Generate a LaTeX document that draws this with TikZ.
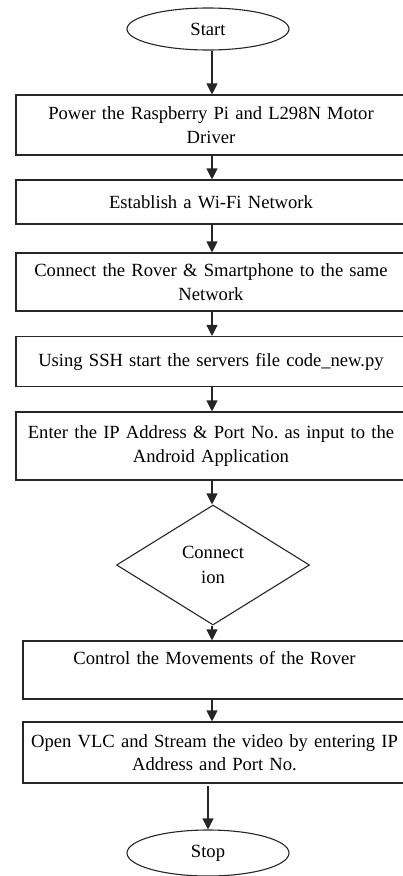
\documentclass[tikz,border=0pt]{standalone}
\usepackage{fontspec}
\setmainfont{Liberation Serif}
\usetikzlibrary{shapes.geometric,arrows.meta}
\frenchspacing

\tikzset{
  line/.style={draw=black!85, line width=1.1pt},
  stepbox/.style={line, rectangle, text width=370pt,
    align=center, inner sep=0pt, font=\fontsize{18.6}{23.5}\selectfont},
  widebox/.style={stepbox, minimum width=390pt},
  narrowbox/.style={stepbox, minimum width=383pt},
  terminal/.style={line, ellipse, minimum width=162pt, minimum height=42pt,
    inner sep=0pt, font=\fontsize{18.6}{23.5}\selectfont},
  decision/.style={line, diamond, minimum width=193pt, minimum height=120pt,
    inner sep=0pt, align=center, font=\fontsize{18.6}{24.5}\selectfont},
  flow/.style={line, -{Triangle[width=11pt,length=11pt]}}
}

\begin{document}
\begin{tikzpicture}[x=1pt, y=-1pt]
  \useasboundingbox (0,0) rectangle (403,876);
  \clip (0,0) rectangle (403,876);

  % terminals and process steps, top to bottom
  \node[terminal] (start) at (208,29) {Start};
  \node[widebox, minimum height=60pt] (b1) at (211,125)
    {Power the Raspberry Pi and L298N Motor\\Driver};
  \node[widebox, minimum height=44pt] (b2) at (211,202)
    {Establish a Wi-Fi Network};
  \node[widebox, minimum height=58pt] (b3) at (211,282)
    {Connect the Rover \& Smartphone to the same\\Network};
  \node[widebox, minimum height=50pt] (b4) at (211,361.5)
    {Using SSH start the servers file code\_new.py};
  \node[widebox, minimum height=68pt] (b5) at (211,446)
    {Enter the IP Address \& Port No. as input to the\\Android Application};
  \node[decision] (conn) at (213,565) {Connect\\ion};
  \node[narrowbox, minimum height=58pt] (b6) at (214.5,670)
    {Control the Movements of the Rover\\\mbox{}};
  \node[narrowbox, minimum height=61pt] (b7) at (214.5,752.5)
    {Open VLC and Stream the video by entering IP\\Address and Port No.};
  \node[terminal, minimum height=46pt] (stop) at (208,853) {Stop};

  % vertical connectors along the main axis
  \coordinate (axis) at (212,0);
  \draw[flow] (start.south -| axis) -- (b1.north -| axis);
  \draw[flow] (b1.south -| axis) -- (b2.north -| axis);
  \draw[flow] (b2.south -| axis) -- (b3.north -| axis);
  \draw[flow] (b3.south -| axis) -- (b4.north -| axis);
  \draw[flow] (b4.south -| axis) -- (b5.north -| axis);
  \draw[flow] (b5.south -| axis) -- (conn.north -| axis);
  \draw[flow] (conn.south -| axis) -- (b6.north -| axis);
  \draw[flow] (b6.south -| axis) -- (b7.north -| axis);
  \draw[flow] ([yshift=-2pt]b7.south -| stop) -- (stop.north);
\end{tikzpicture}
\end{document}
